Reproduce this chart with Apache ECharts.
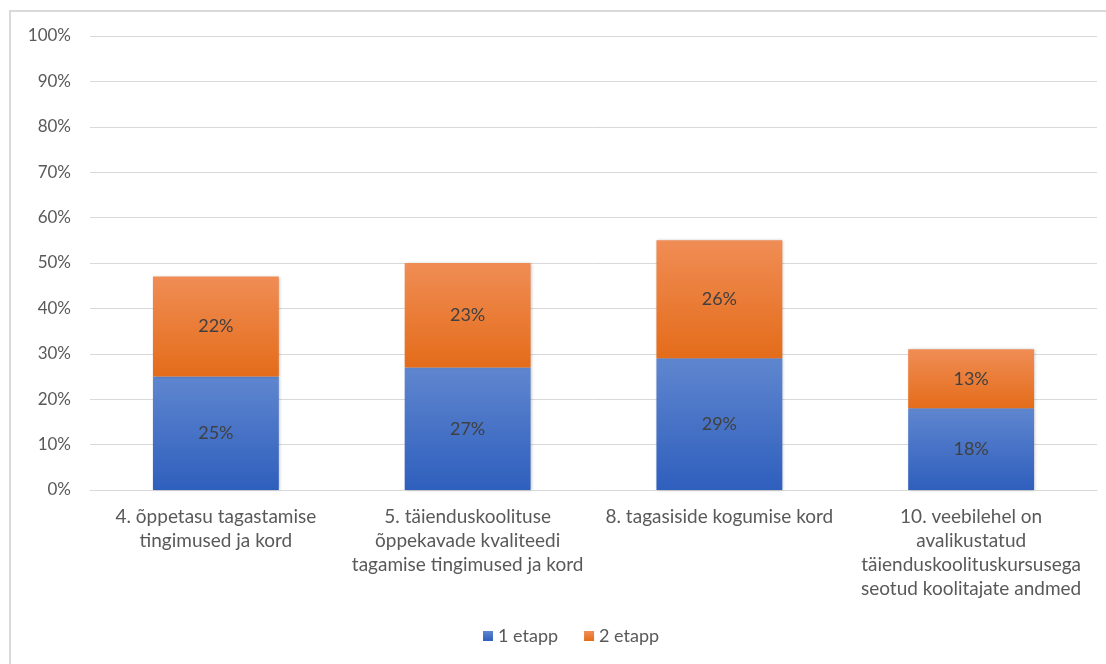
<!DOCTYPE html>
<html>
<head>
<meta charset="utf-8">
<script src="https://cdn.jsdelivr.net/npm/echarts@6/dist/echarts.min.js"></script>
<style>
  html, body { margin: 0; padding: 0; background: #fff; overflow: hidden; }
  #frame { position: absolute; left: 9px; top: 10px; width: 1120px; height: 700px; border: 2px solid #d9d9d9; box-sizing: border-box; }
  #chart { position: absolute; left: 0; top: 0; width: 1106px; height: 664px; }
</style>
</head>
<body>
<div id="frame"></div>
<div id="chart"></div>
<script>
// Categories (x axis)
const categories = [
  '4. õppetasu tagastamise\ntingimused ja kord',
  '5. täienduskoolituse\nõppekavade kvaliteedi\ntagamise tingimused ja kord',
  '8. tagasiside kogumise kord',
  '10. veebilehel on\navalikustatud\ntäienduskoolituskursusega\nseotud koolitajate andmed'
];
// Series values, in percent
const stage1 = [25, 27, 29, 18];
const stage2 = [22, 23, 26, 13];
const seriesNames = ['1 etapp', '2 etapp'];

const FONT = 'Lato, "Open Sans", sans-serif';

function vgrad(top, bottom) {
  return new echarts.graphic.LinearGradient(0, 0, 0, 1, [
    { offset: 0, color: top },
    { offset: 1, color: bottom }
  ]);
}

const labelStyle = {
  show: true,
  position: 'inside',
  formatter: p => p.value + '%',
  color: '#404040',
  fontSize: 18,
  fontFamily: FONT
};

const chart = echarts.init(document.getElementById('chart'));
chart.setOption({
  animation: false,
  textStyle: { fontFamily: FONT },
  grid: { left: 90, right: 9, top: 36, bottom: 174, containLabel: false },
  legend: {
    data: seriesNames,
    bottom: 14,
    left: 478,
    itemWidth: 10,
    itemHeight: 10,
    itemGap: 26,
    icon: 'rect',
    textStyle: { color: '#595959', fontSize: 18, fontFamily: FONT }
  },
  xAxis: {
    type: 'category',
    data: categories,
    axisTick: { show: false },
    axisLine: { lineStyle: { color: '#d9d9d9', width: 1 } },
    axisLabel: {
      color: '#595959',
      fontSize: 19,
      fontFamily: FONT,
      lineHeight: 24,
      margin: 15,
      interval: 0
    }
  },
  yAxis: {
    type: 'value',
    min: 0,
    max: 100,
    interval: 10,
    axisLine: { show: false },
    axisTick: { show: false },
    splitLine: { lineStyle: { color: '#d9d9d9', width: 1 } },
    axisLabel: {
      formatter: '{value}%',
      color: '#595959',
      fontSize: 17,
      fontFamily: FONT,
      margin: 19
    }
  },
  series: [
    {
      name: seriesNames[0],
      type: 'bar',
      stack: 'total',
      barWidth: '50%',
      data: stage1,
      itemStyle: {
        color: vgrad('#5f86cf', '#2f5fbd'),
        shadowColor: 'rgba(0,0,0,0.25)',
        shadowBlur: 3,
        shadowOffsetX: 1,
        shadowOffsetY: 0
      },
      label: labelStyle
    },
    {
      name: seriesNames[1],
      type: 'bar',
      stack: 'total',
      barWidth: '50%',
      data: stage2,
      itemStyle: {
        color: vgrad('#f08d55', '#e46c1a'),
        shadowColor: 'rgba(0,0,0,0.25)',
        shadowBlur: 3,
        shadowOffsetX: 1,
        shadowOffsetY: 0
      },
      label: labelStyle
    }
  ]
});
</script>
</body>
</html>
